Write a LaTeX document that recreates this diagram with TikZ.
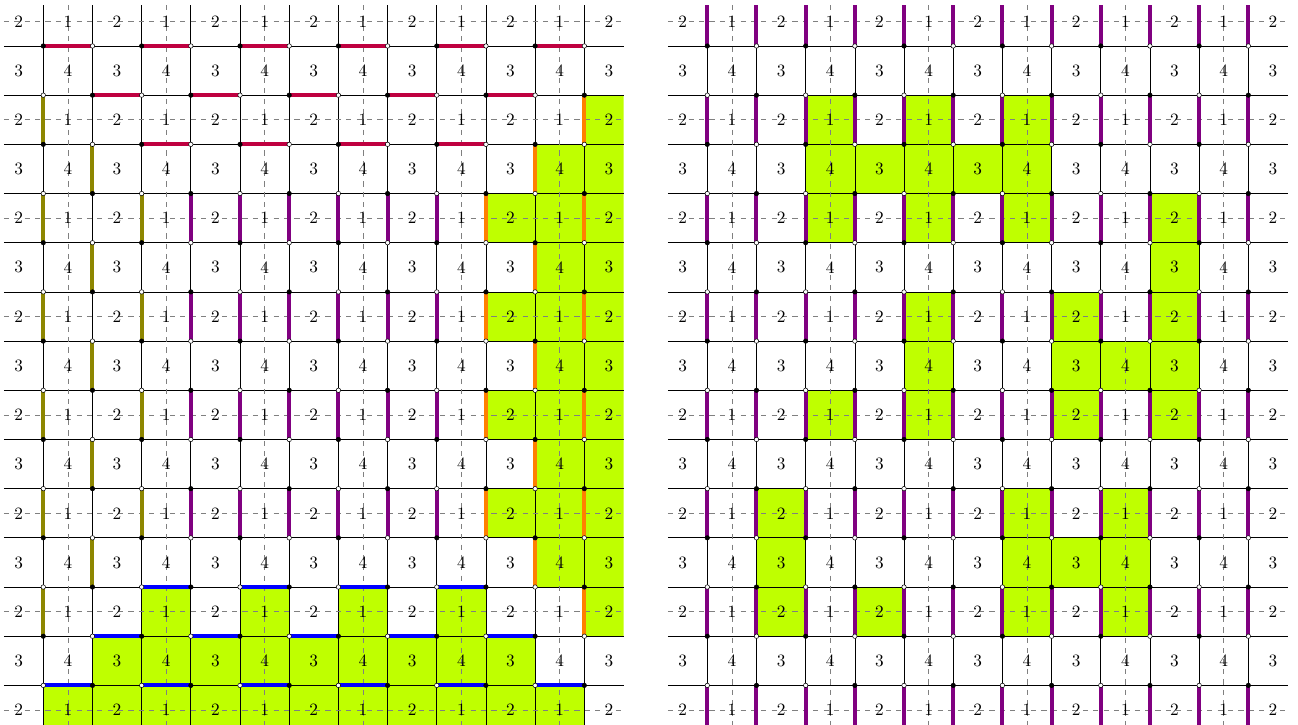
\documentclass[tikz,border=0pt]{standalone}
\begin{document}
\begin{tikzpicture}[
    cell/.style={fill=lime},
    rule/.style={black, line width=0.4pt},
    guide/.style={gray, dashed, line width=0.4pt},
    dimer/.style={line width=2.3pt},
    site/.style={draw=black, line width=0.3pt},
    num/.style={inner sep=0pt}
]
\useasboundingbox (-0.38,0.435) rectangle (26.01,-14.30);
% Green cells, left
\begin{scope}
  \clip (-0.3,0.33) rectangle (12.3,-14.33);
  \foreach \c/\rows in {12/{2,...,12}, 11/{3,...,11}, 10/{4,6,8,10}}
    \foreach \r in \rows \fill[cell] (\c-0.5,-\r-0.5) rectangle ++(1,1);
  \foreach \r/\cols in {14/{1,...,11}, 13/{2,...,10}, 12/{3,5,7,9}}
    \foreach \c in \cols \fill[cell] (\c-0.5,-\r-0.5) rectangle ++(1,1);
\end{scope}
% Green cells, right
\foreach \r/\cols in {2/{3,5,7}, 3/{3,...,7}, 4/{3,5,7,10}, 5/{10},
    6/{5,8,10}, 7/{5,8,9,10}, 8/{3,5,8,10}, 10/{2,7,9}, 11/{2,7,8,9},
    12/{2,4,7,9}}
  \foreach \c in \cols \fill[cell] (13.5+\c-0.5,-\r-0.5) rectangle ++(1,1);
% Lattices
\foreach \g/\dx in {L/0, R/13.5} {
  \foreach \v in {0,...,11} {
    \coordinate (\g-top-\v) at (\dx+\v+0.5,0.33);
    \coordinate (\g-bot-\v) at (\dx+\v+0.5,-14.33);
    \draw[rule] (\g-top-\v) -- (\g-bot-\v);
    \foreach \h in {0,...,13}
      \coordinate (\g-\v-\h) at (\dx+\v+0.5,-\h-0.5);
  }
  \foreach \h in {0,...,13} {
    \coordinate (\g-west-\h) at (\dx-0.3,-\h-0.5);
    \coordinate (\g-east-\h) at (\dx+12.3,-\h-0.5);
    \draw[rule] (\g-west-\h) -- (\g-east-\h);
  }
  \foreach \r in {0,2,...,14}
    \draw[guide] (\dx-0.3,-\r) -- (\dx+12.3,-\r);
  \foreach \c in {1,3,...,11}
    \draw[guide] (\dx+\c,0.33) -- (\dx+\c,-14.33);
  \foreach \c in {0,...,12}
    \foreach \r in {0,...,14} {
      \pgfmathtruncatemacro\lbl{mod(\r,2)==0 ? 2-mod(\c,2) : 3+mod(\c,2)}
      \node[num] (\g-lbl-\c-\r) at (\dx+\c,-\r) {\lbl};
    }
}
% Left dimers: horizontal
\foreach \h/\cols in {0/{1,3,...,11}, 1/{2,4,...,10}, 2/{3,5,7,9}}
  \foreach \c in \cols {
    \pgfmathtruncatemacro\p{\c-1}
    \draw[dimer, purple] (L-\p-\h) -- (L-\c-\h);
  }
\foreach \h/\cols in {11/{3,5,7,9}, 12/{2,4,...,10}, 13/{1,3,...,11}}
  \foreach \c in \cols {
    \pgfmathtruncatemacro\p{\c-1}
    \draw[dimer, blue] (L-\p-\h) -- (L-\c-\h);
  }
% Left dimers: vertical
\foreach \v/\rows in {0/{2,4,...,12}, 1/{3,5,...,11}, 2/{4,6,8,10}}
  \foreach \r in \rows {
    \pgfmathtruncatemacro\q{\r-1}
    \draw[dimer, olive] (L-\v-\q) -- (L-\v-\r);
  }
\foreach \v in {3,...,8}
  \foreach \r in {4,6,8,10} {
    \pgfmathtruncatemacro\q{\r-1}
    \draw[dimer, violet] (L-\v-\q) -- (L-\v-\r);
  }
\foreach \v/\rows in {9/{4,6,8,10}, 10/{3,5,...,11}, 11/{2,4,...,12}}
  \foreach \r in \rows {
    \pgfmathtruncatemacro\q{\r-1}
    \draw[dimer, orange] (L-\v-\q) -- (L-\v-\r);
  }
% Right dimers
\foreach \v in {0,...,11} {
  \draw[dimer, violet] (R-top-\v) -- (R-\v-0);
  \foreach \r [evaluate=\r as \q using int(\r-1)] in {2,4,...,12}
    \draw[dimer, violet] (R-\v-\q) -- (R-\v-\r);
  \draw[dimer, violet] (R-\v-13) -- (R-bot-\v);
}
% Sites
\foreach \g in {L,R}
  \foreach \v in {0,...,11}
    \foreach \h in {0,...,13} {
      \ifodd\numexpr\v+\h\relax \def\tone{white}\else \def\tone{black}\fi
      \filldraw[site, fill=\tone] (\g-\v-\h) circle (1.3pt);
    }
\end{tikzpicture}
\end{document}
